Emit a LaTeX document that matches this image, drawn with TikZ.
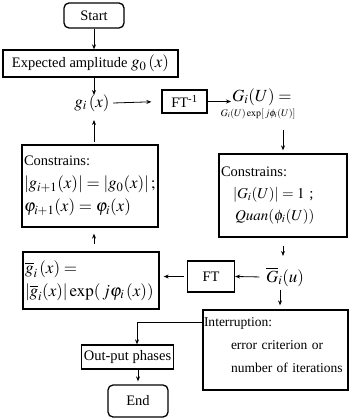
\documentclass[tikz,border=0pt]{standalone}
\usepackage{mathptmx}
\usepackage{fontspec}
\setmainfont{Liberation Serif}
\usetikzlibrary{arrows.meta, positioning}
\newcommand{\mbg}[1]{{\fontsize{17}{20}\selectfont$#1$}}

\begin{document}
\begin{tikzpicture}[x=1pt, y=-1pt, font=\fontsize{14.5}{23}\selectfont,
    box/.style={draw, line width=1.3pt, inner sep=2pt},
    term/.style={box, rounded corners=5pt},
    arr/.style={-{Stealth[length=5pt,width=4pt]}, line width=0.8pt}]
    \useasboundingbox (0,0) rectangle (349,419);

    % 开始
    \node[term, minimum width=60pt, minimum height=25pt] (start) at (94,15.5) {Start};
    \node[box, minimum width=175pt, minimum height=27pt] (expamp) at (90.5,63.5) {Expected amplitude \mbg{g_0\,(x)}};
    \node (gi) at (92,103) {\mbg{g_i\,(x)}};
    \node[box, minimum width=45pt, minimum height=23pt] (ftinv) at (184.5,101.5) {FT\textsuperscript{-1}};
    \node[anchor=west, inner sep=1pt] (Gi) at (231,97) {\mbg{G_i(U) =}};
    \node[inner sep=1pt, font=\fontsize{10}{12}\selectfont] (Giexp) at (258,114) {$G_i(U)\exp[\,j\phi_i(U)]$};

    % 约束
    \node[box, text width=124pt, minimum height=83pt, align=left, font=\fontsize{14.5}{22}\selectfont] (rcon) at (283,195.5)
        {Constrains:\\ \hspace*{12pt}{\fontsize{15}{18}\selectfont$\left|G_i(U)\right| = 1$ ;}\\ \hspace*{14pt}{\fontsize{15}{18}\selectfont$Quan(\phi_i(U))$}};
    \node[box, text width=132pt, minimum height=82pt, align=left] (lcon) at (90,186)
        {Constrains:\\ \mbg{\left|g_{i+1}(x)\right| = \left|g_0(x)\right|;}\\ \mbg{\varphi_{i+1}(x) = \varphi_i(x)}};

    % 反馈
    \node[box, text width=132pt, minimum height=57pt, align=left] (gbar) at (91,280.5)
        {\mbg{\overline{g}_i\,(x) =}\\ \mbg{\left|\overline{g}_i(x)\right|\exp(\,j\varphi_i\,(x))}};
    \node[box, minimum width=47pt, minimum height=31pt] (ft) at (211,276.5) {FT};
    \node (Gbar) at (285,277) {\mbg{\overline{G}_i(u)}};

    % 终止
    \node[box, text width=143pt, inner sep=1pt, minimum height=80pt, align=left, font=\fontsize{13.5}{23}\selectfont] (intr) at (275.5,350)
        {\mbox{Interruption:}\\ \mbox{\hspace*{27pt}error criterion or}\\ \mbox{\hspace*{27pt}number of iterations}\\[-14pt]\mbox{}};
    \node[box, minimum width=89pt, minimum height=24pt] (outp) at (127.5,357) {Out-put phases};
    \node[term, minimum width=60pt, minimum height=32pt] (endn) at (138,401) {End};
    \coordinate (turn) at (137,322);

    \draw[arr] (start) -- (start |- expamp.north);
    \draw[arr] (94,77) -- (94,95);
    \draw[arr, shorten >=10pt] (gi.east) -- (ftinv.west);
    \draw[arr] (ftinv.east) -- (Gi.west |- ftinv.east);
    \draw[arr, shorten <=10pt, shorten >=3pt] (Giexp.south -| rcon) -- (rcon.north);
    \draw[arr, shorten <=8pt, shorten >=8pt] (rcon.south) -- (rcon.south |- Gbar.north);
    \draw[arr, shorten <=3pt] (Gbar.west) -- (ft.east);
    \draw[arr, shorten <=3pt, shorten >=4pt] (ft.west) -- (gbar.east |- ft.west);
    \draw[arr, shorten <=7pt, shorten >=6pt] (gbar.north -| 94,0) -- (lcon.south -| 94,0);
    \draw[arr, shorten <=2pt, shorten >=2pt] (lcon.north -| 94,0) -- (94,118);
    \draw[arr, shorten <=2pt, shorten >=4pt] (280,288) -- (280 ,0 |- intr.north);
    \draw[arr] (intr.west |- turn) -- (turn) -- (outp.north -| turn);
    \draw[arr, shorten >=3pt] (outp.south -| endn) -- (endn.north);
\end{tikzpicture}
\end{document}
